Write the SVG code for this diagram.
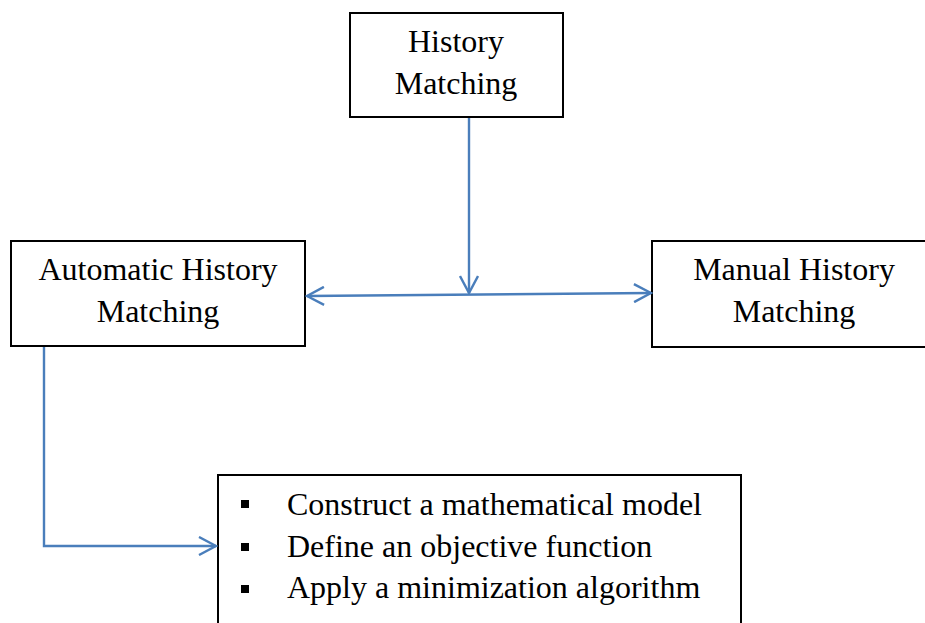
<svg xmlns="http://www.w3.org/2000/svg" width="925" height="623" viewBox="0 0 925 623">
  <style>
    .box { fill: #ffffff; stroke: #000000; stroke-width: 2; }
    .label { font-family: "Liberation Serif", "Times New Roman", serif; font-size: 32px; fill: #000000; }
    .mid { text-anchor: middle; }
    .bullet { fill: #000000; }
    .wire { fill: none; stroke: #4a7ebb; stroke-width: 2.4; }
  </style>
  <defs>
    <marker id="arrow" viewBox="0 0 20 20" refX="18" refY="10" markerWidth="20" markerHeight="20" markerUnits="userSpaceOnUse" orient="auto-start-reverse">
      <path d="M1,1 L18,10 L1,19" fill="none" stroke="#4a7ebb" stroke-width="2.4"/>
    </marker>
  </defs>
  <rect width="925" height="623" fill="#ffffff"/>

  <g id="history-matching">
    <rect class="box" x="350" y="13" width="213" height="104"/>
    <text class="label mid" x="456" y="52">History</text>
    <text class="label mid" x="456" y="94">Matching</text>
  </g>

  <g id="automatic-history-matching">
    <rect class="box" x="11" y="241" width="294" height="105"/>
    <text class="label mid" x="158" y="280">Automatic History</text>
    <text class="label mid" x="158" y="322">Matching</text>
  </g>

  <g id="manual-history-matching">
    <rect class="box" x="652" y="241" width="280" height="106"/>
    <text class="label mid" x="794" y="280">Manual History</text>
    <text class="label mid" x="794" y="322">Matching</text>
  </g>

  <g id="automatic-steps">
    <rect class="box" x="218" y="475" width="523" height="160"/>
    <rect class="bullet" x="241" y="500" width="8" height="8"/>
    <rect class="bullet" x="241" y="543" width="8" height="8"/>
    <rect class="bullet" x="241" y="585" width="8" height="8"/>
    <text class="label" x="287" y="515">Construct a mathematical model</text>
    <text class="label" x="287" y="557">Define an objective function</text>
    <text class="label" x="287" y="598">Apply a minimization algorithm</text>
  </g>

  <g id="connectors">
    <path class="wire" d="M469,118 L469,293" marker-end="url(#arrow)"/>
    <path class="wire" d="M307,296 L651,293" marker-start="url(#arrow)" marker-end="url(#arrow)"/>
    <path class="wire" d="M44,347 L44,546 L216,546" marker-end="url(#arrow)"/>
  </g>
</svg>
